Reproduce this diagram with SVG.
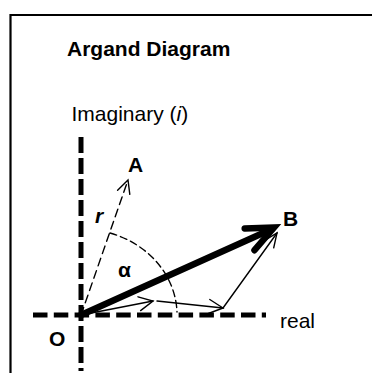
<svg xmlns="http://www.w3.org/2000/svg" width="372" height="373" viewBox="0 0 372 373">
<style>
text{font-family:"Liberation Sans",Arial,sans-serif;font-size:21px;fill:#000}
.b{font-weight:bold}
.axis{stroke:#000;stroke-width:5;fill:none}
.thin{stroke:#000;stroke-width:1.4;fill:none;stroke-linecap:round;stroke-linejoin:miter}
.thick{stroke:#000;stroke-width:6.5;fill:none;stroke-linecap:round}
</style>
<rect x="0" y="0" width="372" height="373" fill="#fff"/>
<path d="M10.5,380 V15 H380" fill="none" stroke="#000" stroke-width="2.2"/>
<g id="title"><text class="b" x="67" y="56">Argand Diagram</text></g>
<g id="axis-imaginary">
<path class="axis" d="M81,137 V371" stroke-dasharray="16 5"/>
<text x="71.5" y="121">Imaginary (<tspan font-style="italic">i</tspan>)</text>
</g>
<g id="axis-real">
<path class="axis" d="M33,315 H266" stroke-dasharray="14.5 6.3"/>
<text x="280" y="328">real</text>
</g>
<g id="node-O"><text class="b" x="49" y="346">O</text></g>
<g id="node-A"><text class="b" x="128" y="172">A</text></g>
<g id="node-B"><text class="b" x="283" y="226">B</text></g>
<g id="label-r"><text class="b" x="95" y="223" font-style="italic">r</text></g>
<g id="label-alpha"><text class="b" x="118" y="277">α</text></g>
<g id="connectors">
<path class="thin" d="M110,233 A96,86 0 0,1 177,312" stroke-dasharray="7 4"/>
<path class="thin" d="M81,315 L128,180" stroke-dasharray="8 5"/>
<path class="thin" d="M117.6,190.2 L128,180 L129.8,194.4"/>
<path class="thin" d="M81,315 L153,301"/>
<path class="thin" d="M138,296.8 L153,301 L140.6,310.6"/>
<path class="thin" d="M157,301 L223,308"/>
<path class="thin" d="M209.8,299.5 L223,308 L208.4,313.5"/>
<path class="thin" d="M223,308 L277,233"/>
<path class="thin" d="M263.9,240.9 L277,233 L273.7,247.9"/>
<path class="thick" d="M81,315 L272,229"/>
<path class="thick" d="M244.7,228.4 L274,227.5 L254.5,250.2" stroke-linejoin="miter"/>
</g>
</svg>
